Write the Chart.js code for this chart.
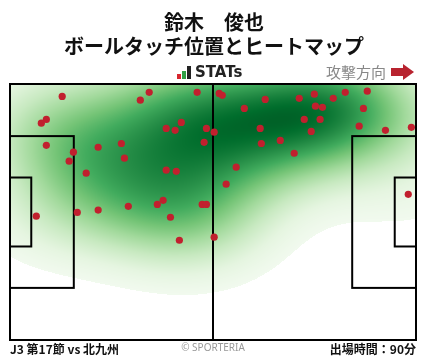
<!DOCTYPE html>
<html>
<head>
<meta charset="utf-8">
<script src="https://cdn.jsdelivr.net/npm/chart.js@4"></script>
<style>
  body { margin: 0; background: #fff; }
  #wrap { width: 428px; height: 359px; position: relative; }
</style>
</head>
<body>
<div id="wrap"><canvas id="chart"></canvas></div>
<script>
// Ball touch positions (metres, x: 0-105 attacking right, y: 0-68 from top)
const touchX = [13.5, 36.0, 33.7, 48.4, 54.1, 54.9, 66.0, 74.8, 78.7, 83.6, 86.7, 92.4,
  9.4, 8.1, 60.6, 79.0, 80.8, 91.4, 44.3, 40.4, 42.7, 50.8, 52.8, 76.1, 80.2, 64.7,
  90.3, 97.1, 103.8, 77.9, 50.2, 9.4, 28.8, 22.8, 16.4, 15.3, 29.6, 65.0, 69.9, 73.5,
  19.7, 40.4, 43.0, 58.5, 55.9, 39.6, 38.1, 30.6, 49.7, 50.8, 22.8, 17.4, 6.8, 41.5,
  103.0, 43.8, 52.8];
const touchY = [3.3, 2.2, 4.3, 2.2, 2.5, 3.0, 4.1, 3.8, 2.7, 3.8, 2.2, 1.9,
  9.4, 10.4, 6.5, 5.9, 6.2, 6.5, 10.2, 11.8, 12.3, 11.8, 12.8, 9.4, 9.4, 11.8,
  11.2, 12.3, 11.5, 12.6, 15.5, 16.3, 15.8, 16.8, 18.1, 20.5, 19.7, 15.8, 15.0, 18.4,
  23.7, 22.9, 23.2, 22.1, 26.6, 30.9, 32.0, 32.5, 32.0, 32.0, 33.5, 34.1, 35.1, 35.4,
  29.3, 41.5, 40.7];

const titleLines = ['鈴木　俊也', 'ボールタッチ位置とヒートマップ'];
const matchLabel = 'J3 第17節 vs 北九州';
const minutesLabel = '出場時間：90分';

// Greens colour map stops
const greens = [[247,252,245],[229,245,224],[199,233,192],[161,217,155],[116,196,118],
  [65,171,93],[35,139,69],[0,109,44],[0,68,27]];
function greenAt(t) {
    t = Math.max(0, Math.min(1, t)) * (greens.length - 1);
    const i = Math.min(Math.floor(t), greens.length - 2), f = t - i;
    return greens[i].map((c, k) => c + (greens[i + 1][k] - c) * f);
}

let heatImg = null;
const heatmapPlugin = {
    id: 'heatmap',
    beforeDatasetsDraw(chart) {
        const { ctx, chartArea: a, scales: { x, y } } = chart;
        const w = Math.round(a.right - a.left), h = Math.round(a.bottom - a.top);
        if (!heatImg) {
            const bx = 14, by = 10;
            const dens = new Float32Array(w * h);
            let max = 0;
            for (let j = 0; j < h; j++) {
                const vy = y.getValueForPixel(a.top + j + 0.5);
                for (let i = 0; i < w; i++) {
                    const vx = x.getValueForPixel(a.left + i + 0.5);
                    let s = 0;
                    for (let k = 0; k < touchX.length; k++) {
                        const dx = (vx - touchX[k]) / bx, dy = (vy - touchY[k]) / by;
                        s += Math.exp(-0.5 * (dx * dx + dy * dy));
                    }
                    dens[j * w + i] = s;
                    if (s > max) max = s;
                }
            }
            const off = document.createElement('canvas');
            off.width = w; off.height = h;
            const octx = off.getContext('2d');
            const img = octx.createImageData(w, h);
            const thr = 0.065;
            for (let p = 0; p < w * h; p++) {
                const v = dens[p] / max;
                if (v < thr) continue;
                const t = (v - thr) / (1 - thr);
                const c = greenAt(0.04 + 0.87 * t);
                img.data[p * 4] = c[0]; img.data[p * 4 + 1] = c[1];
                img.data[p * 4 + 2] = c[2]; img.data[p * 4 + 3] = 255;
            }
            octx.putImageData(img, 0, 0);
            heatImg = off;
        }
        ctx.drawImage(heatImg, a.left, a.top);

        // pitch lines
        const px = v => x.getPixelForValue(v), py = v => y.getPixelForValue(v);
        ctx.save();
        ctx.strokeStyle = '#000';
        ctx.lineWidth = 2;
        const box = (x0, y0, x1, y1) => ctx.strokeRect(px(x0), py(y0), px(x1) - px(x0), py(y1) - py(y0));
        box(0, 0, 105, 68);
        ctx.beginPath(); ctx.moveTo(px(52.5), py(0)); ctx.lineTo(px(52.5), py(68)); ctx.stroke();
        box(0, 13.84, 16.5, 54.16);
        box(0, 24.84, 5.5, 43.16);
        box(88.5, 13.84, 105, 54.16);
        box(99.5, 24.84, 105, 43.16);
        ctx.restore();
    },
    afterDraw(chart) {
        const { ctx } = chart;
        ctx.save();
        ctx.fillStyle = '#111';
        ctx.textAlign = 'center';
        ctx.textBaseline = 'middle';
        ctx.font = 'bold 20px "Noto Sans CJK JP"';
        ctx.fillText(titleLines[0], 214, 22);
        ctx.fillText(titleLines[1], 214, 46);

        // STATs logo
        ctx.fillStyle = '#d7262f'; ctx.fillRect(177, 74, 4, 5);
        ctx.fillStyle = '#2f9e44'; ctx.fillRect(182, 71, 4, 8);
        ctx.fillStyle = '#222'; ctx.fillRect(187, 66, 4, 13);
        ctx.textAlign = 'left';
        ctx.font = 'bold 15px "DejaVu Sans"';
        ctx.fillStyle = '#222';
        ctx.fillText('STATs', 195, 73);

        // attack direction
        ctx.font = '15px "Noto Sans CJK JP"';
        ctx.fillStyle = '#888';
        ctx.textAlign = 'right';
        ctx.fillText('攻撃方向', 386, 72);
        ctx.fillStyle = '#b8232f';
        ctx.fillRect(391, 68, 13, 8);
        ctx.beginPath(); ctx.moveTo(403, 64); ctx.lineTo(414, 72); ctx.lineTo(403, 80); ctx.closePath(); ctx.fill();

        // footer
        ctx.fillStyle = '#111';
        ctx.font = 'bold 12px "Noto Sans CJK JP"';
        ctx.textAlign = 'left';
        ctx.fillText(matchLabel, 10, 349);
        ctx.textAlign = 'right';
        ctx.fillText(minutesLabel, 416, 349);
        ctx.textAlign = 'center';
        ctx.font = '10px "Noto Sans"';
        ctx.fillStyle = '#999';
        ctx.fillText('© SPORTERIA', 213, 348);
        ctx.restore();
    }
};

const points = touchX.map((v, i) => ({ x: v, y: touchY[i] }));

new Chart(document.getElementById('chart'), {
    type: 'scatter',
    data: {
        datasets: [{
            data: points,
            backgroundColor: '#c1202e',
            borderWidth: 0,
            pointRadius: 3.6,
            clip: false
        }]
    },
    options: {
        responsive: true,
        maintainAspectRatio: false,
        animation: false,
        layout: { padding: { left: 10, right: 12, top: 84, bottom: 19 } },
        plugins: { legend: { display: false }, tooltip: { enabled: false } },
        scales: {
            x: { type: 'linear', min: 0, max: 105, display: false },
            y: { type: 'linear', min: 0, max: 68, reverse: true, display: false }
        }
    },
    plugins: [heatmapPlugin]
});
</script>
</body>
</html>
